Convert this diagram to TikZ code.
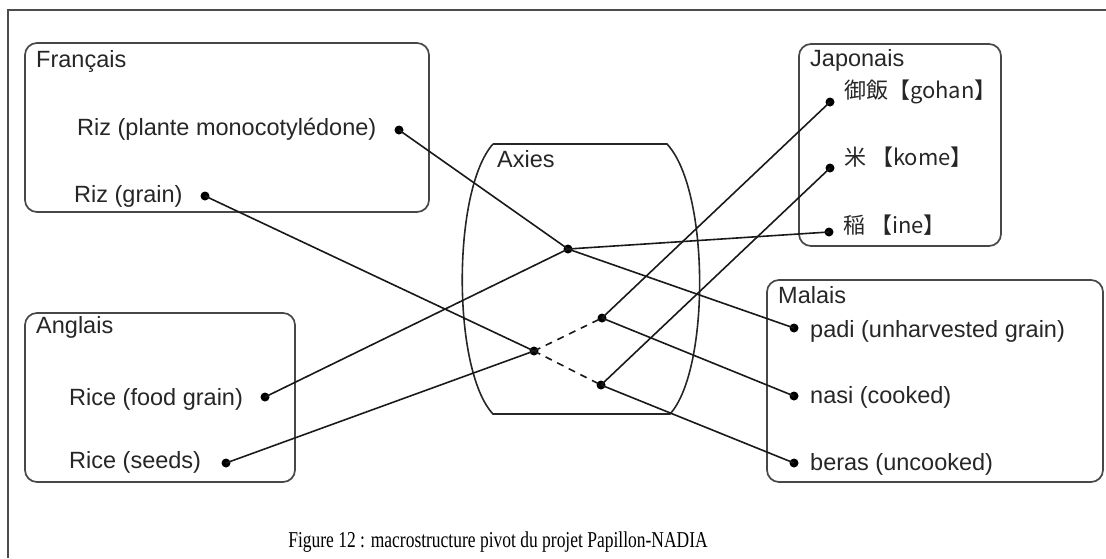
\documentclass[tikz,border=0pt]{standalone}
\usepackage{graphicx}
\usepackage{fontspec}
\setmainfont{Liberation Sans}
\newfontfamily\jpfont{Noto Sans CJK JP}
\newfontfamily\captionfont{Liberation Serif}
\begin{document}
\begin{tikzpicture}[x=1pt,y=-1pt,
  txt/.style={anchor=base west,inner sep=0pt,text=black!85,font=\fontsize{23.5}{28}\selectfont},
  jtxt/.style={anchor=base west,inner sep=0pt,text=black!85,font=\jpfont\fontsize{22}{26}\selectfont},
  langbox/.style={draw=black!72,line width=1.7pt,rounded corners=12pt},
  dot/.style={circle,fill=black,inner sep=0pt,minimum size=9pt},
  link/.style={line width=1.6pt,black!90},
  dashlink/.style={link,dash pattern=on 7pt off 6pt}]
\useasboundingbox (0,0) rectangle (1106,558);
% outer frame
\draw[black!70,line width=1.4pt] (8,558) -- (8,10) -- (1106,10);

% language boxes
\draw[langbox] (25,43) rectangle (429,212);
\draw[langbox] (25,313) rectangle (295,482);
\draw[langbox] (799,44) rectangle (1001,246);
\draw[langbox] (767,280) rectangle (1103,482);

% pivot volume
\draw[line width=1.6pt,black!85] (493,144) -- (667,144)
  .. controls (710,190) and (710,370) .. (670,414) -- (493,414)
  .. controls (452,370) and (452,190) .. (493,144);

% labels
\node[txt] (fr) at (36,67) {Français};
\node[txt] (frA) at (77,135) {Riz (plante monocotylédone)};
\node[txt] (frB) at (74,202) {Riz (grain)};
\node[txt] (en) at (36,333) {Anglais};
\node[txt] (enA) at (69,405) {Rice (food grain)};
\node[txt] (enB) at (69,468) {Rice (seeds)};
\node[txt] (ax) at (497,167) {Axies};
\node[txt] (ja) at (810,66) {Japonais};
\node[jtxt] (jaA) at (844,98) {御飯【gohan】};
\node[jtxt] (jaB) at (844,165) {米 【kome】};
\node[jtxt] (jaC) at (843,233) {稲 【ine】};
\node[txt] (ms) at (778,303) {Malais};
\node[txt] (msA) at (810,337) {padi (unharvested grain)};
\node[txt] (msB) at (810,403) {nasi (cooked)};
\node[txt] (msC) at (810,470) {beras (uncooked)};

% attachment points
\node[dot] (pFrA) at (399,130) {};
\node[dot] (pFrB) at (205,196) {};
\node[dot] (pEnA) at (265,397) {};
\node[dot] (pEnB) at (226,463) {};
\node[dot] (pJaA) at (830,102) {};
\node[dot] (pJaB) at (830,168) {};
\node[dot] (pJaC) at (829,232) {};
\node[dot] (pMsA) at (794,328) {};
\node[dot] (pMsB) at (794,396) {};
\node[dot] (pMsC) at (794,463) {};

% axies
\node[dot] (axA) at (568,249) {};
\node[dot] (axB) at (534,351) {};
\node[dot] (axC) at (602,318) {};
\node[dot] (axD) at (601,385) {};

% links
\draw[link] (pFrA.center) -- (axA.center);
\draw[link] (pEnA.center) -- (axA.center);
\draw[link] (axA.center) -- (pJaC.center);
\draw[link] (axA.center) -- (pMsA.center);
\draw[link] (pFrB.center) -- (axB.center);
\draw[link] (pEnB.center) -- (axB.center);
\draw[dashlink] (axB.center) -- (axC.center);
\draw[dashlink] (axB.center) -- (axD.center);
\draw[link] (axC.center) -- (pJaA.center);
\draw[link] (axC.center) -- (pMsB.center);
\draw[link] (axD.center) -- (pJaB.center);
\draw[link] (axD.center) -- (pMsC.center);

% caption, set narrow
\node[anchor=base,inner sep=0pt,font=\captionfont\fontsize{22.7}{26}\selectfont] (cap) at (498,547)
  {\scalebox{0.77}[1]{Figure 12 : macrostructure pivot du projet Papillon-NADIA}};
\end{tikzpicture}
\end{document}
